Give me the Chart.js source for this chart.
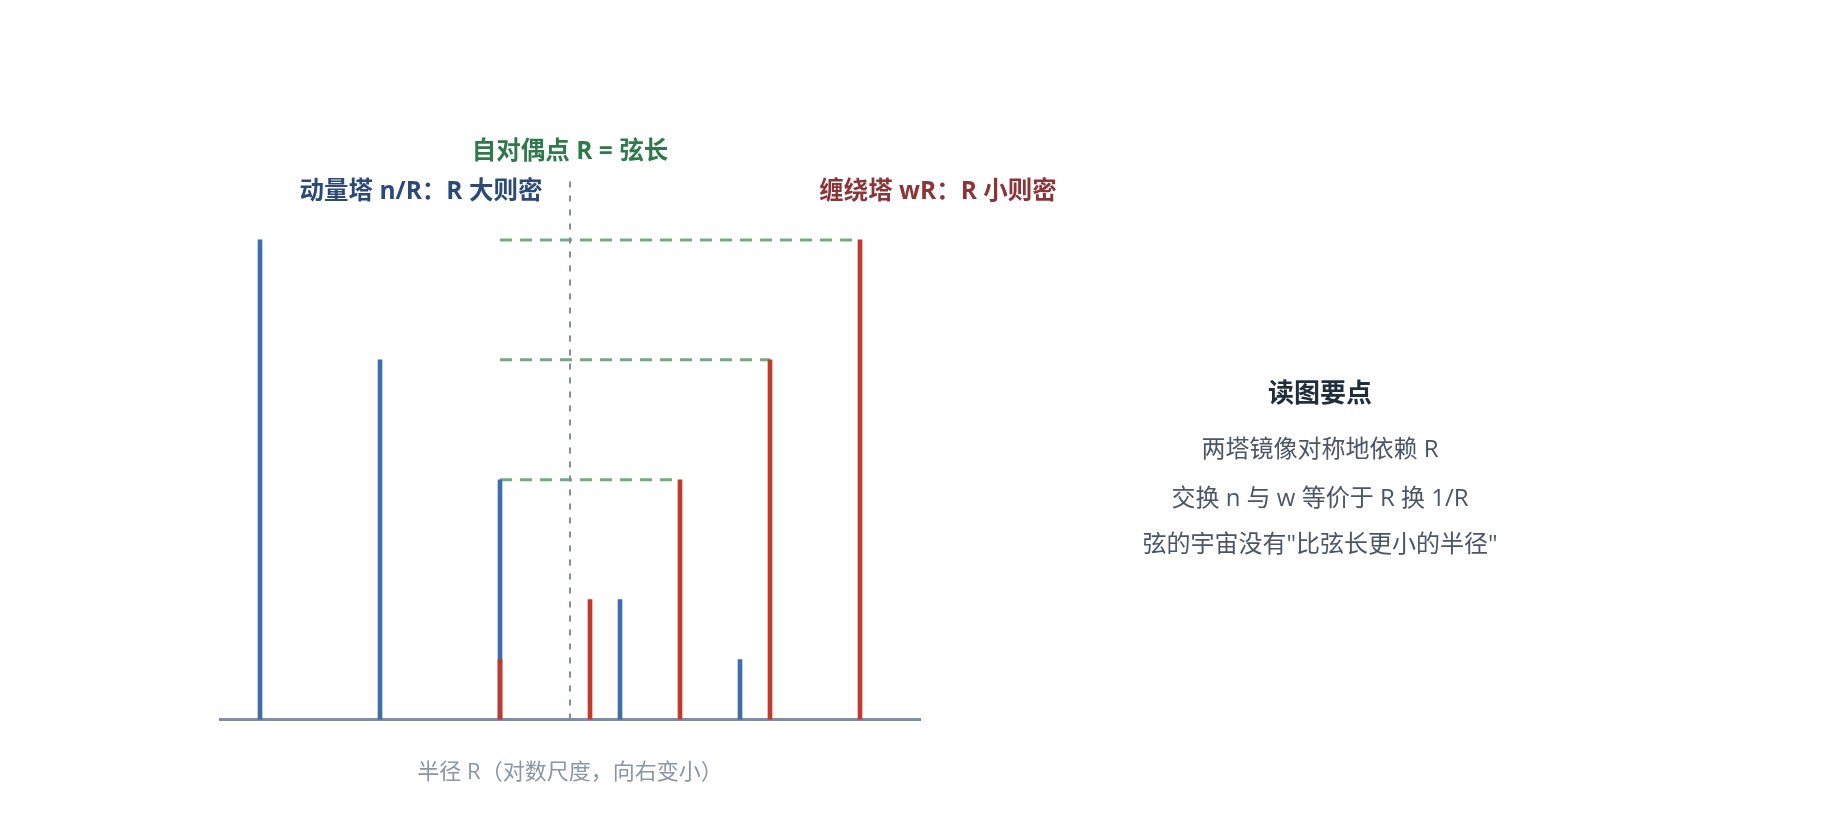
<!DOCTYPE html>
<html lang="zh-CN">
<head>
    <meta charset="UTF-8">
    <title>T 对偶：动量塔与缠绕塔</title>
    <script src="https://cdn.jsdelivr.net/npm/chart.js"></script>
    <style>
        html, body { margin: 0; padding: 0; background: #fff; }
        body {
            width: 1840px; height: 840px; position: relative; overflow: hidden;
            font-family: "Open Sans", "Noto Sans CJK SC", sans-serif;
        }
        #chartBox { position: absolute; left: 0; top: 0; width: 1840px; height: 840px; }
        .notes div {
            position: absolute; left: 1120px; width: 400px; height: 32px;
            line-height: 32px; text-align: center; white-space: nowrap;
        }
        .notes .title { top: 376px; font-size: 26px; font-weight: 700; color: #1f2d3d; }
        .notes .line { font-size: 24px; color: #4a5568; }
    </style>
</head>
<body>
    <div id="chartBox"><canvas id="towerChart" width="1840" height="840"></canvas></div>

    <div class="notes">
        <div class="title">读图要点</div>
        <div class="line" style="top:432px">两塔镜像对称地依赖 R</div>
        <div class="line" style="top:481px">交换 n 与 w 等价于 R 换 1/R</div>
        <div class="line" style="top:527px">弦的宇宙没有"比弦长更小的半径"</div>
    </div>

    <script>
        // --- DATA ---
        // position along the (log R) axis and line height for each state
        const momentumX = [4, 16, 28, 40, 52];
        const momentumH = [8, 6, 4, 2, 1];
        const windingX = [28, 37, 46, 55, 64];
        const windingH = [1, 2, 4, 6, 8];
        const selfDualX = 35;
        const selfDualTop = 9;
        // levels matched between the two towers (green guides)
        const matchLevels = [8, 6, 4];

        const FONT = '"Open Sans", "Noto Sans CJK SC", sans-serif';
        const BLUE = '#3f6fab';
        const RED = '#c3392c';
        const GREEN = 'rgba(88, 158, 108, 0.85)';

        const datasets = [
            {
                type: 'bar', label: '缠绕塔 wR',
                data: windingX.map((x, i) => ({ x, y: windingH[i] })),
                backgroundColor: RED, barThickness: 4, grouped: false, order: 0
            },
            {
                type: 'bar', label: '动量塔 n/R',
                data: momentumX.map((x, i) => ({ x, y: momentumH[i] })),
                backgroundColor: BLUE, barThickness: 4, grouped: false, order: 1
            }
        ];

        // dashed guides from the momentum bar at the self-dual side to the matching winding bar
        matchLevels.forEach(h => {
            const xr = windingX[windingH.indexOf(h)];
            datasets.push({
                type: 'line', label: 'match ' + h,
                data: [{ x: momentumX[momentumH.indexOf(4)], y: h }, { x: xr, y: h }],
                borderColor: GREEN, borderWidth: 3, borderDash: [12, 8],
                pointRadius: 0, fill: false, order: 3
            });
        });

        datasets.push({
            type: 'line', label: '自对偶点',
            data: [{ x: selfDualX, y: 0 }, { x: selfDualX, y: selfDualTop }],
            borderColor: '#7f8ba3', borderWidth: 2, borderDash: [6, 8],
            pointRadius: 0, fill: false, order: 2
        });

        // --- LABELS ---
        const labelPlugin = {
            id: 'towerLabels',
            afterDatasetsDraw(chart) {
                const { ctx, scales: { x, y } } = chart;
                ctx.save();
                ctx.font = 'bold 24.5px ' + FONT;
                ctx.textAlign = 'center';
                ctx.textBaseline = 'middle';

                ctx.fillStyle = '#2e7a4a';
                ctx.fillText('自对偶点 R = 弦长', x.getPixelForValue(selfDualX), y.getPixelForValue(9.47));

                ctx.fillStyle = '#2c4a78';
                ctx.fillText('动量塔 n/R：R 大则密', x.getPixelForValue(20.1), y.getPixelForValue(8.8));

                ctx.fillStyle = '#8b3538';
                ctx.fillText('缠绕塔 wR：R 小则密', x.getPixelForValue(71.8), y.getPixelForValue(8.8));
                ctx.restore();
            }
        };

        new Chart(document.getElementById('towerChart'), {
            type: 'bar',
            data: { datasets },
            options: {
                responsive: false,
                animation: false,
                events: [],
                layout: { padding: { left: 220, right: 920, top: 120, bottom: 54 } },
                scales: {
                    x: {
                        type: 'linear', min: 0, max: 70, offset: false,
                        grid: { display: false, drawTicks: false },
                        ticks: { display: false },
                        border: { display: true, color: '#7f8ea6', width: 3 },
                        title: {
                            display: true, text: '半径 R（对数尺度，向右变小）',
                            color: '#8a96a8', font: { size: 22, family: FONT },
                            padding: { top: 40, bottom: 0 }
                        }
                    },
                    y: { display: false, min: 0, max: 10 }
                },
                plugins: { legend: { display: false }, tooltip: { enabled: false } }
            },
            plugins: [labelPlugin]
        });
    </script>
</body>
</html>
